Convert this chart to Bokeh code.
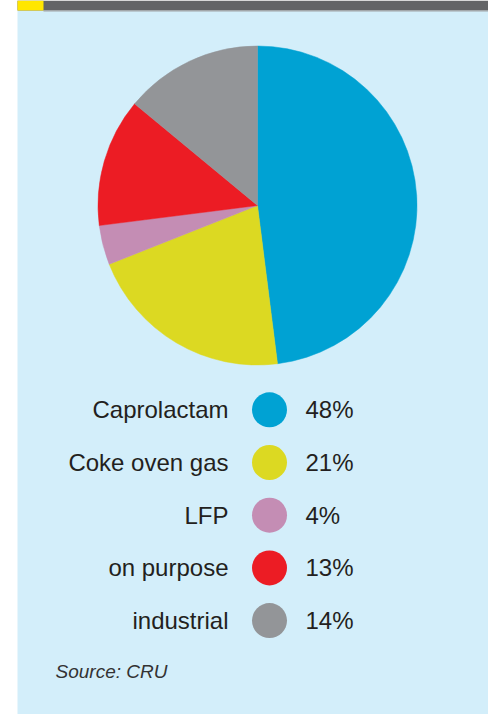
import math
from bokeh.plotting import figure
from bokeh.models import Range1d, ColumnDataSource
from bokeh.core.properties import value
from bokeh.embed import file_html
from bokeh.resources import INLINE

# ---- data ----
categories = ["Caprolactam", "Coke oven gas", "LFP", "on purpose", "industrial"]
shares = [48, 21, 4, 13, 14]
colors = ["#00A2D3", "#DCD922", "#C48DB4", "#EC1C24", "#939598"]
source_note = "Source: CRU"

W, H = 488, 714

p = figure(width=W, height=H, output_backend="svg", toolbar_location=None,
           x_range=Range1d(0, W), y_range=Range1d(0, H), min_border=0,
           border_fill_color="white", background_fill_color="white")
p.axis.visible = False
p.grid.visible = False
p.outline_line_color = None

def py(y):
    return H - y

# panel and header bar
p.quad(left=17, right=W, bottom=py(H), top=py(10), fill_color="#D3EEFA", line_color=None)
p.quad(left=17, right=W, bottom=py(10), top=py(0), fill_color="#636466", line_color=None)
p.quad(left=17, right=43, bottom=py(10), top=py(0), fill_color="#FFE600", line_color=None)
p.quad(left=43, right=W, bottom=py(11), top=py(10), fill_color="#9FA1A4", line_color=None)

# pie
total = sum(shares)
starts, ends = [], []
acc = 0.0
for s in shares:
    starts.append(math.pi / 2 - 2 * math.pi * acc / total)
    acc += s
    ends.append(math.pi / 2 - 2 * math.pi * acc / total)
pie_src = ColumnDataSource(dict(start=starts, end=ends, color=colors))
p.wedge(x=257, y=py(205), radius=159.5, start_angle="start", end_angle="end",
        direction="clock", fill_color="color", line_color="color", line_width=0.5,
        source=pie_src)

# legend
row0, step = 409.3, 52.7
ys = [py(row0 + i * step) for i in range(len(categories))]
leg = ColumnDataSource(dict(y=ys, cat=categories, color=colors,
                            pct=[f"{v}%" for v in shares]))
p.circle(x=269, y="y", radius=17.5, fill_color="color", line_color=None, source=leg)
p.text(x=228, y="y", text="cat", text_align="right", text_baseline="middle",
       text_font=value("Liberation Sans"), text_font_size="24px",
       text_color="#231F20", source=leg)
p.text(x=305, y="y", text="pct", text_align="left", text_baseline="middle",
       text_font=value("Liberation Sans"), text_font_size="24px",
       text_color="#231F20", source=leg)

p.text(x=[55], y=[py(671)], text=[source_note], text_align="left",
       text_baseline="middle", text_font=value("Liberation Sans"),
       text_font_style="italic", text_font_size="19px", text_color="#333333")

open("out.html", "w").write(file_html(p, INLINE))
